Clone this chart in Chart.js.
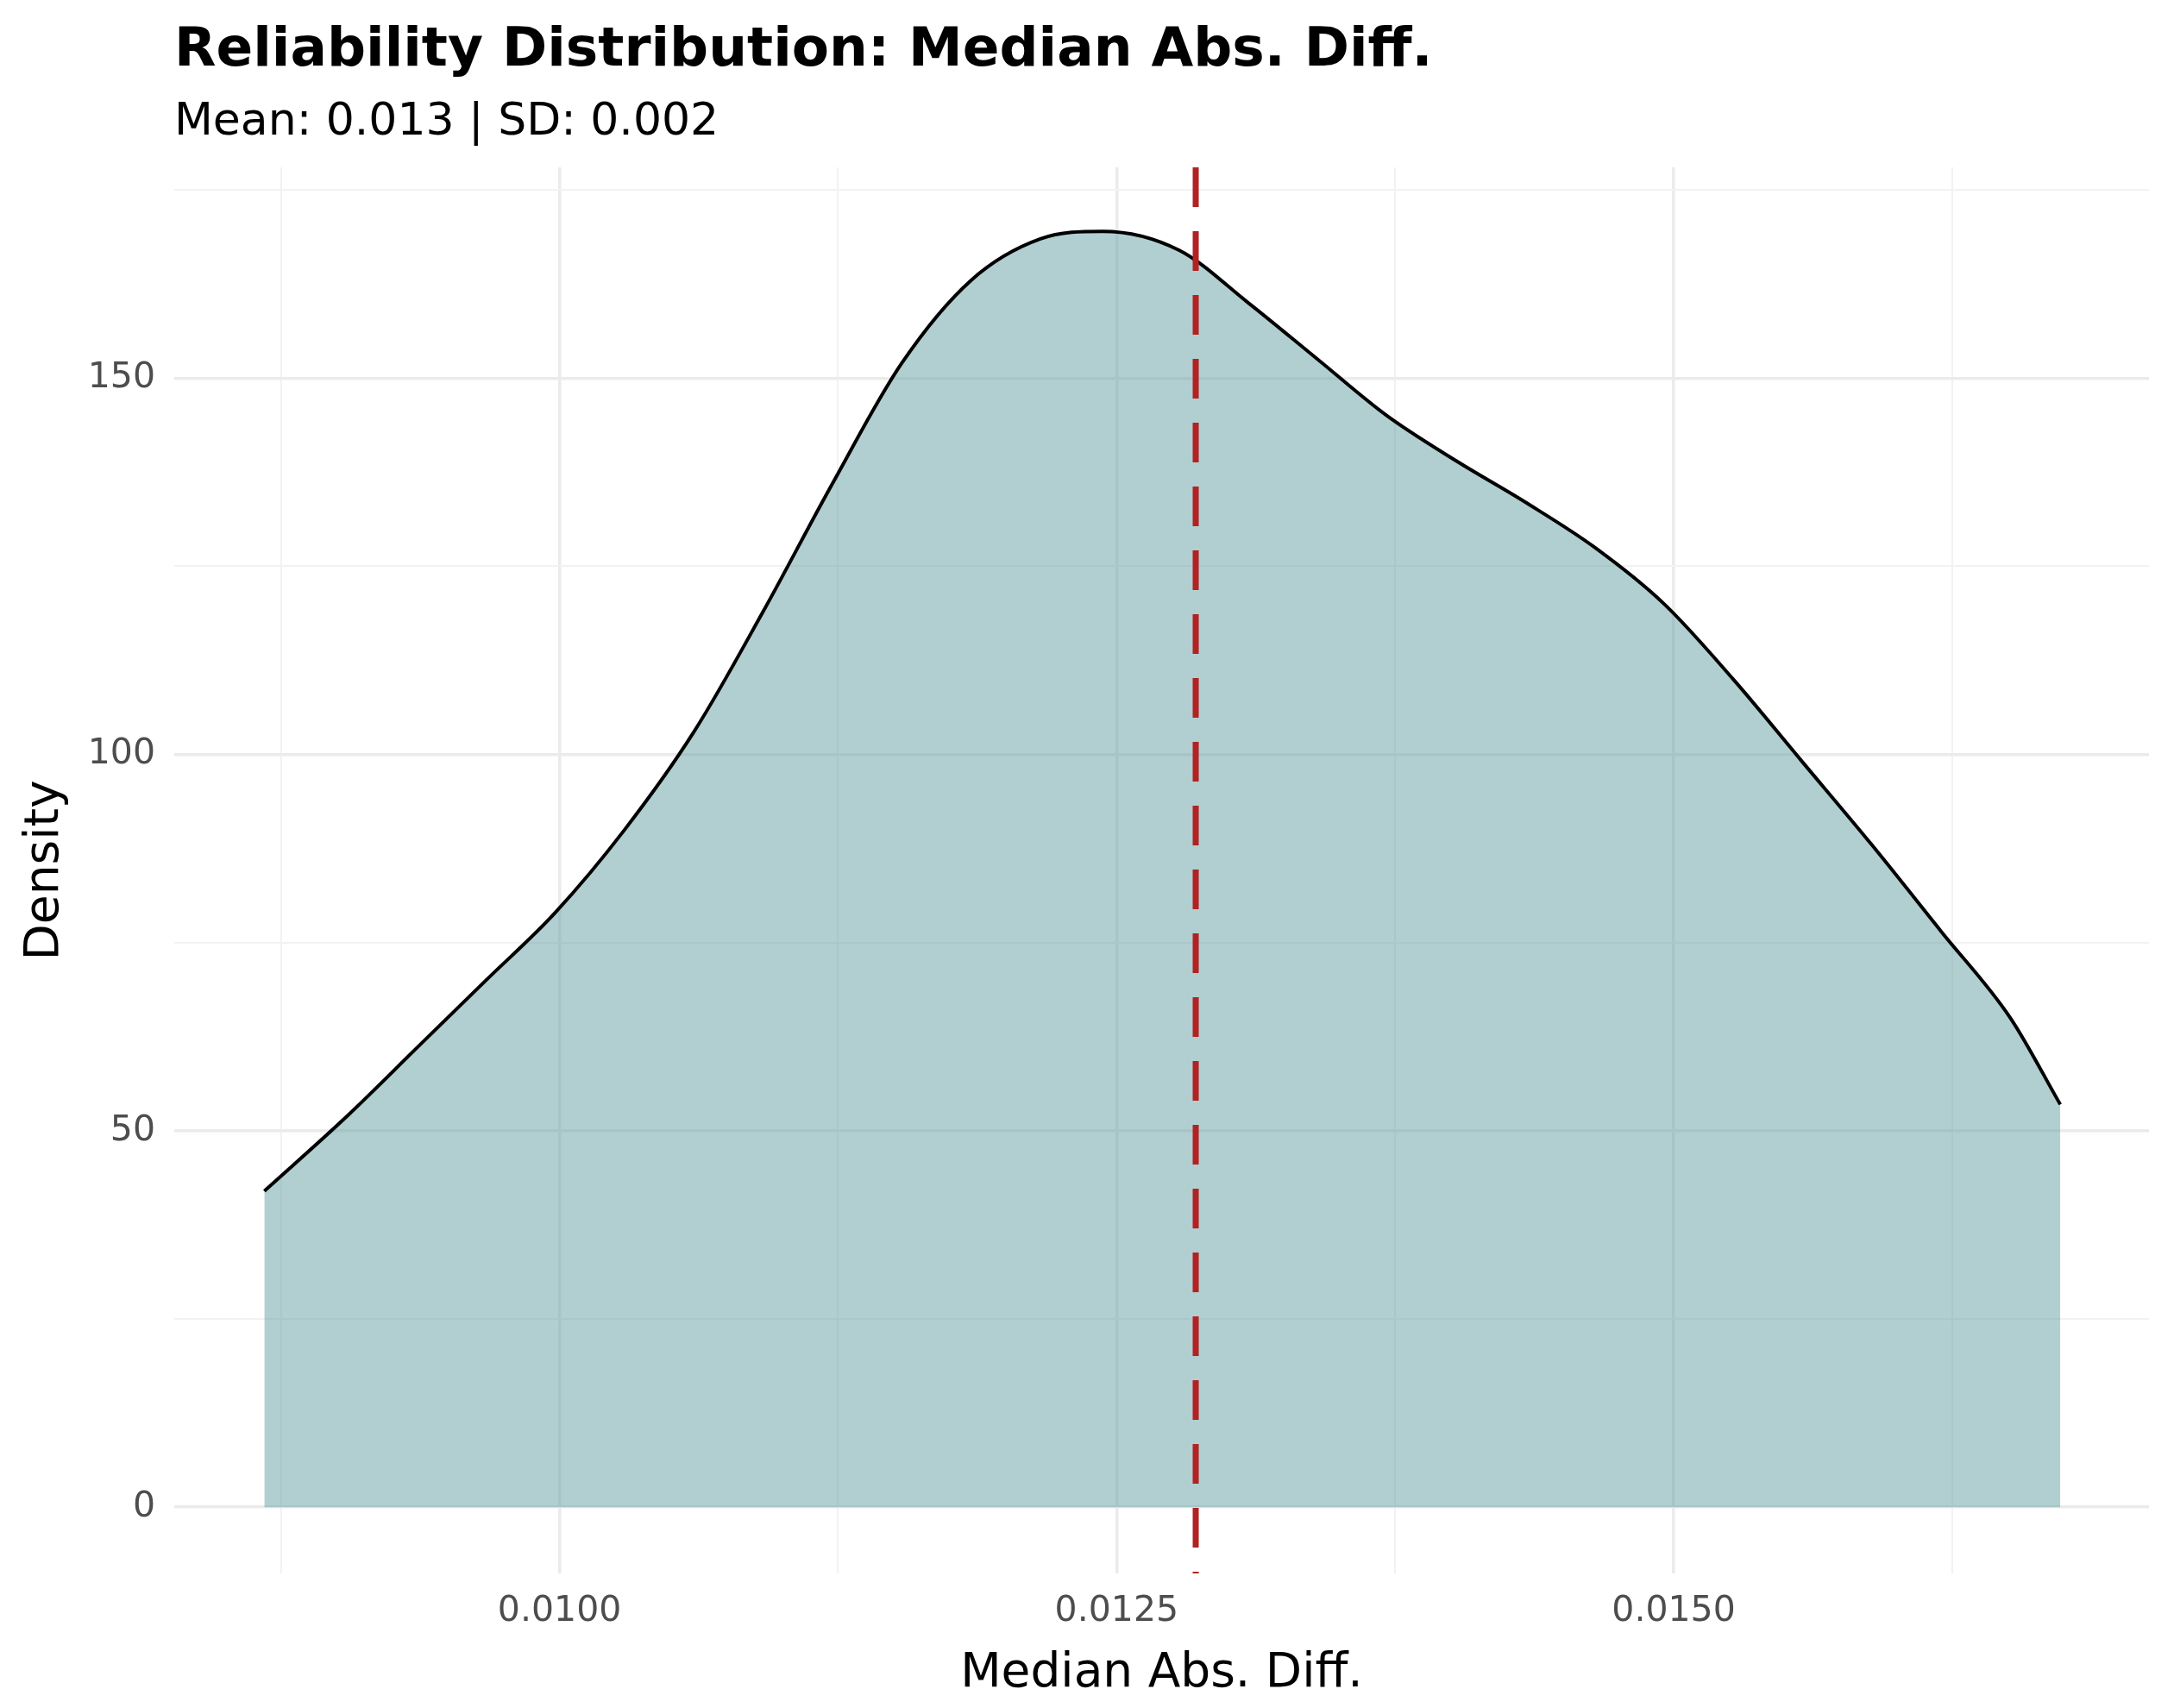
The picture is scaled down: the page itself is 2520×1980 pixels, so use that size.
<!DOCTYPE html>
<html>
<head>
<meta charset="utf-8">
<script src="https://cdn.jsdelivr.net/npm/chart.js@4.4.0/dist/chart.umd.min.js"></script>
<style>
html,body{margin:0;padding:0;background:#fff;}
#wrap{width:2520px;height:1980px;}
</style>
</head>
<body>
<div id="wrap"><canvas id="densityChart" width="2520" height="1980"></canvas></div>
<script>
/* DATA */
const xValues=[0.008675,0.009048,0.009359,0.009670,0.009981,0.010292,0.010603,0.010914,0.011225,0.011536,0.011847,0.012158,0.012438,0.012780,0.013091,0.013402,0.013713,0.014024,0.014335,0.014646,0.014957,0.015267,0.015578,0.015889,0.016200,0.016511,0.016735];
const densityValues=[42,52,61,70,79,90,103,119,136,152,163,168.5,169.5,167,160,152.5,145,139,133.5,127.5,120,110,99,88,76.5,65,53.5];
const meanValue=0.012855;
const xMajorTicks=[0.0100,0.0125,0.0150];
const yMajorTicks=[0,50,100,150];

const FONT="'DejaVu Sans', sans-serif";

function isMajor(v,list){
    return list.some(t=>Math.abs(t-v)<1e-9);
}

/* MEAN LINE + TITLES */
const extras={
    id:"extras",
    afterDatasetsDraw(chart){
        let ctx=chart.ctx, a=chart.chartArea;
        let x=chart.scales.x.getPixelForValue(meanValue);
        ctx.save();
        ctx.strokeStyle="#B22222";
        ctx.lineWidth=7;
        ctx.setLineDash([46,28]);
        ctx.beginPath();
        ctx.moveTo(x,a.top);
        ctx.lineTo(x,a.bottom);
        ctx.stroke();
        ctx.restore();
    },
    afterDraw(chart){
        let ctx=chart.ctx;
        ctx.save();
        ctx.fillStyle="#000";
        ctx.textBaseline="alphabetic";
        ctx.font="bold 63px "+FONT;
        ctx.fillText("Reliability Distribution: Median Abs. Diff.",202,76);
        ctx.font="52px "+FONT;
        ctx.fillText("Mean: 0.013 | SD: 0.002",202,156);
        ctx.restore();
    }
};

new Chart(
document.getElementById("densityChart"),
{
    type:"line",
    data:{
        datasets:[{
            data:xValues.map((x,i)=>({x:x,y:densityValues[i]})),
            borderColor:"#000",
            borderWidth:4,
            backgroundColor:"rgba(95,158,160,0.49)",
            fill:"origin",
            pointRadius:0,
            cubicInterpolationMode:"monotone"
        }]
    },
    options:{
        responsive:false,
        animation:false,
        devicePixelRatio:1,
        layout:{padding:{top:194,right:29,bottom:6,left:0}},
        plugins:{legend:{display:false},tooltip:{enabled:false}},
        scales:{
            x:{
                type:"linear",
                min:0.008271,
                max:0.017133,
                afterBuildTicks(scale){
                    let t=[];
                    for(let v=0.00875;v<0.0170;v+=0.00125) t.push({value:+v.toFixed(5)});
                    scale.ticks=t;
                },
                afterFit(scale){scale.height=150;},
                border:{display:false},
                grid:{
                    color:ctx=>isMajor(ctx.tick.value,xMajorTicks)?"#ebebeb":"#f2f2f2",
                    lineWidth:ctx=>isMajor(ctx.tick.value,xMajorTicks)?3.5:2,
                    drawTicks:false
                },
                ticks:{
                    autoSkip:false,
                    maxRotation:0,
                    padding:20,
                    color:"#4d4d4d",
                    font:{family:FONT,size:41},
                    callback:v=>isMajor(v,xMajorTicks)?v.toFixed(4):""
                },
                title:{display:true,text:"Median Abs. Diff.",color:"#000",font:{family:FONT,size:55},padding:{top:0,bottom:0}}
            },
            y:{
                min:-8.8,
                max:178,
                afterBuildTicks(scale){
                    scale.ticks=[0,25,50,75,100,125,150,175].map(v=>({value:v}));
                },
                afterFit(scale){scale.width=202;},
                border:{display:false},
                grid:{
                    color:ctx=>isMajor(ctx.tick.value,yMajorTicks)?"#ebebeb":"#f2f2f2",
                    lineWidth:ctx=>isMajor(ctx.tick.value,yMajorTicks)?3.5:2,
                    drawTicks:false
                },
                ticks:{
                    autoSkip:false,
                    padding:22,
                    color:"#4d4d4d",
                    font:{family:FONT,size:41},
                    callback:v=>isMajor(v,yMajorTicks)?String(v):""
                },
                title:{display:true,text:"Density",color:"#000",font:{family:FONT,size:55},padding:{top:20,bottom:0}}
            }
        }
    },
    plugins:[extras]
});
</script>
</body>
</html>
